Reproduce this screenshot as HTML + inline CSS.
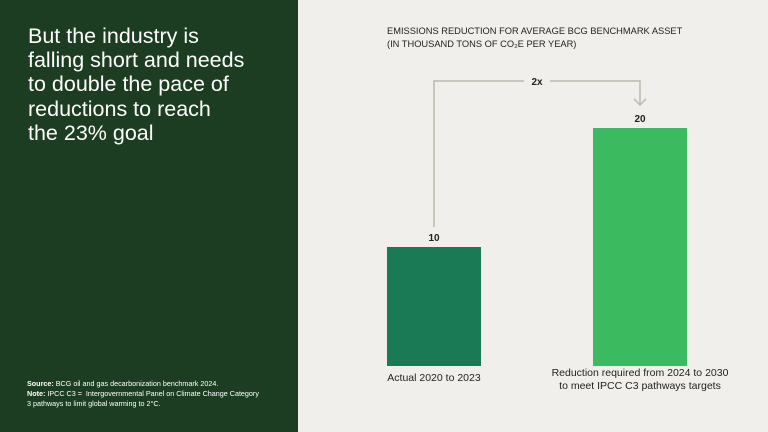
<!DOCTYPE html>
<html><head><meta charset="utf-8"><style>
body{margin:0;width:768px;height:432px;overflow:hidden;font-family:"Liberation Sans",sans-serif;background:#f1efeb;position:relative}
#left{position:absolute;left:0;top:0;width:298px;height:432px;background:#1c3d22;color:#fff}
#title{position:absolute;left:28px;top:24px;font-size:21.5px;line-height:24.2px;font-weight:normal;margin:0}
#notes{position:absolute;left:27px;top:379px;font-size:7.2px;line-height:10px}
</style></head><body>
<div id="left">
<h1 id="title">But the industry is<br>falling short and needs<br>to double the pace of<br>reductions to reach<br>the 23% goal</h1>
<div id="notes"><b>Source:</b> BCG oil and gas decarbonization benchmark 2024.<br><b>Note:</b> IPCC C3 =&nbsp; Intergovernmental Panel on Climate Change Category<br>3 pathways to limit global warming to 2°C.</div>
</div>
<svg id="chart" width="768" height="432" style="position:absolute;left:0;top:0">
<text x="387" y="34" font-size="9.3" fill="#222">EMISSIONS REDUCTION FOR AVERAGE BCG BENCHMARK ASSET</text>
<text x="387" y="47" font-size="9.3" fill="#222">(IN THOUSAND TONS OF CO₂E PER YEAR)</text>
<g id="marks"></g>
</svg>
<script>
const categories=[["Actual 2020 to 2023"],["Reduction required from 2024 to 2030","to meet IPCC C3 pathways targets"]];
const values=[10,20];
const valueLabels=["10","20"];
const colors=["#1a7a55","#3cba60"];
const baseY=366, perUnit=11.9;
const yScale=v=>baseY-v*perUnit;
const xCenter=i=>434+i*206;
const barW=94;
const NS="http://www.w3.org/2000/svg";
const g=document.getElementById('marks');
function mk(t,a){const e=document.createElementNS(NS,t);for(const k in a)e.setAttribute(k,a[k]);g.appendChild(e);return e;}
values.forEach((v,i)=>{
 const r=mk('rect',{x:xCenter(i)-barW/2,y:yScale(v),width:barW,height:baseY-yScale(v),fill:colors[i]});
 
 
 const t=mk('text',{x:xCenter(i),y:yScale(v)-6,'text-anchor':'middle','font-size':'10','font-weight':'bold',fill:'#222'});
 t.textContent=valueLabels[i];
 
 
 categories[i].forEach((ln,j)=>{
  const c=mk('text',{x:xCenter(i),y:(categories[i].length>1?376:381)+j*13,'text-anchor':'middle','font-size':'10.5',fill:'#222'});
  c.textContent=ln;
  
  
 });
});
const x1=xCenter(0),x2=xCenter(1),bracketTop=81;
const p=mk('path',{d:`M${x1} ${yScale(values[0])-20} V${bracketTop} H${x1+90} M${x2-90} ${bracketTop} H${x2} V${yScale(values[1])-23} M${x2-6} ${yScale(values[1])-29} L${x2} ${yScale(values[1])-23} L${x2+6} ${yScale(values[1])-29}`,stroke:'#bdb8ad','stroke-width':'1.5',fill:'none'});


const lx=mk('text',{x:(x1+x2)/2,y:bracketTop+4,'text-anchor':'middle','font-size':'10','font-weight':'bold',fill:'#222'});
lx.textContent=(values[1]/values[0])+'x';


</script>
</body></html>
